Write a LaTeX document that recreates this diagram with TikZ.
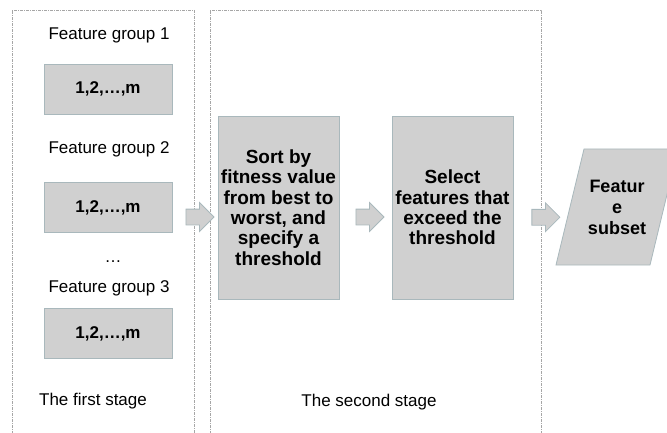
\documentclass[tikz,border=0pt]{standalone}
\usepackage{fontspec}
\setmainfont{Liberation Sans}
\usepackage{tikz}
\usetikzlibrary{calc,shapes.arrows}
\definecolor{box_gray}{HTML}{D0D0D0}
\definecolor{box_edge}{HTML}{A9B8BC}
\definecolor{frame_gray}{HTML}{A6A6A6}

\begin{document}
\begin{tikzpicture}[x=1pt,y=-1pt,
    every node/.style={font=\fontsize{17}{20.7}\selectfont},
    stageframe/.style={frame_gray, line width=0.7pt, dash pattern=on 3pt off 1pt on 1pt off 1pt},
    idxbox/.style={draw=box_edge, fill=box_gray, line width=0.8pt, minimum width=128, minimum height=50, font=\fontsize{17}{20.7}\selectfont\bfseries},
    tallbox/.style={draw=box_edge, fill=box_gray, line width=0.8pt, inner xsep=2pt, minimum width=121, minimum height=183, align=center, font=\fontsize{19}{20.3}\selectfont\bfseries},
    blockarrow/.style={single arrow, draw=box_edge, fill=box_gray, line width=0.8pt, inner sep=7.5pt, minimum height=28, single arrow head extend=6.5pt}]

    \useasboundingbox (0,0) rectangle (667,433);
    \clip (0,0) rectangle (667,433);

    % Les deux cadres des etapes (ouverts en bas)
    \draw[stageframe] (12,440) -- (12,10) -- (194,10) -- (194,440);
    \draw[stageframe] (210,440) -- (210,10) -- (541,10) -- (541,440);

    % Premiere etape : groupes de caracteristiques
    \node[anchor=base] (lab1) at (109,40) {Feature group 1};
    \node[idxbox] (grp1) at (108,89) {1,2,\dots,m};
    \node[anchor=base] (lab2) at (109,154) {Feature group 2};
    \node[idxbox] (grp2) at (108,207.5) {1,2,\dots,m};
    \node[anchor=base] (dots) at (113,262) {\dots};
    \node[anchor=base] (lab3) at (109,292) {Feature group 3};
    \node[idxbox] (grp3) at (108,333.5) {1,2,\dots,m};
    \node[anchor=base] (stage1) at (93,405) {The first stage};

    % Deuxieme etape
    \node[tallbox] (sort) at (278.5,207.5) {Sort by\\fitness value\\from best to\\worst, and\\specify a\\threshold};
    \node[tallbox] (select) at (452.5,207.5) {Select\\features that\\exceed the\\threshold};
    \node[anchor=base] (stage2) at (369,406) {The second stage};

    % Sous-ensemble final
    \draw[draw=box_edge, fill=box_gray, line width=0.8pt] (556,265) -- (584,149) -- (678,149) -- (650,265) -- cycle;
    \node[align=center, font=\fontsize{18}{21}\selectfont\bfseries] (subset) at (617,207) {Featur\\e\\subset};

    % Fleches entre les blocs
    \node[blockarrow] (ar1) at ($(grp2.east)!0.5!(sort.west) + (1,9.5)$) {};
    \node[blockarrow] (ar2) at ($(sort.east)!0.5!(select.west) + (0.5,9.5)$) {};
    \node[blockarrow] (ar3) at ($(select.east)!0.5!(subset.west) + (-7,10)$) {};
\end{tikzpicture}
\end{document}
